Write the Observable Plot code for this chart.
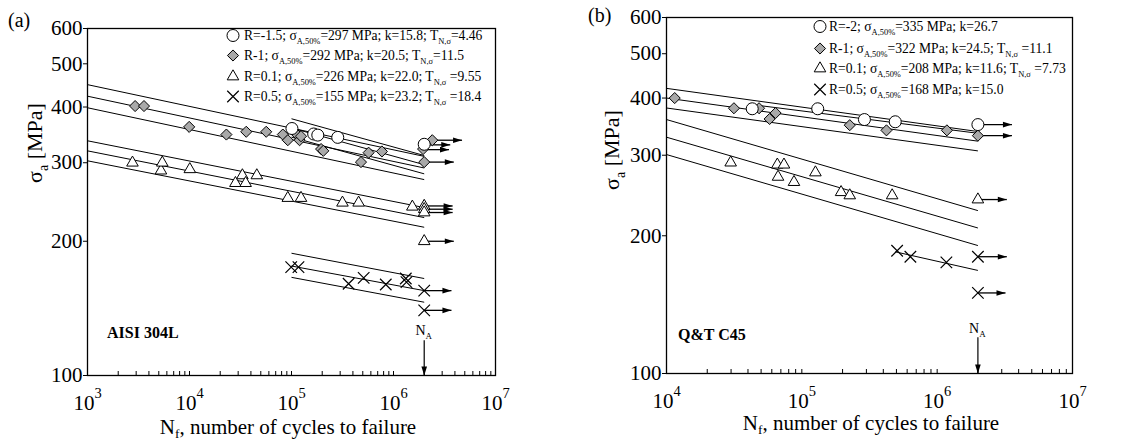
<!DOCTYPE html>
<html><head><meta charset="utf-8">
<script src="https://cdn.jsdelivr.net/npm/d3@7"></script>
<script src="https://cdn.jsdelivr.net/npm/@observablehq/plot@0.6"></script>
<style>
html,body{margin:0;padding:0;background:#fff;}
#root{position:relative;width:1144px;height:443px;overflow:hidden;background:#fff;}
#root svg{position:absolute;top:0;}
</style></head><body><div id="root"></div>
<script>
// ---------- shared ----------
const NA = 2e6;
const naArrowS = [120, 100];
const yTicks = [100, 200, 300, 400, 500, 600];

// ---------- panel (a) AISI 304L ----------
const aMajorTicks = [1e3, 1e4, 1e5, 1e6, 1e7];
const aMinorTicks = [2e3,3e3,4e3,5e3,6e3,7e3,8e3,9e3,1e4,2e4,3e4,4e4,5e4,6e4,7e4,8e4,9e4,1e5,2e5,3e5,4e5,5e5,6e5,7e5,8e5,9e5,1e6,2e6,3e6,4e6,5e6,6e6,7e6,8e6,9e6];
const aCircleN = [1.01e5, 1.65e5, 1.81e5, 2.84e5, 2.0e6];
const aCircleS = [358, 348, 346, 342, 330];
const aDiamondN = [2930, 3580, 9930, 23000, 36000, 56500, 82200, 92000, 1.09e5, 1.2e5, 1.24e5, 1.95e5, 2.05e5, 4.8e5, 5.7e5, 7.7e5, 1.95e6, 2.0e6, 2.4e6];
const aDiamondS = [402, 402, 361, 347, 352, 352, 347, 337, 350, 337, 344, 322, 319, 301, 316, 318, 322, 301, 337];
const aTriN = [2760, 5250, 5410, 10070, 28200, 33000, 35500, 45700, 92000, 1.24e5, 3.16e5, 4.55e5, 1.53e6, 2e6, 2e6, 2e6, 2e6];
const aTriS = [300, 288, 300, 290, 270, 281, 270, 281, 250, 250, 244, 244, 239, 240, 236, 232, 200];
const aCrossN = [9.93e4, 1.17e5, 3.63e5, 5.1e5, 8.4e5, 1.32e6, 1.34e6, 2e6, 2e6];
const aCrossS = [175, 175, 160.6, 165.6, 160, 165, 162, 155, 140];
// scatter-band lines (start N, start sigma, end N, end sigma)
const aLineN1 = [1e5, 1e5, 1e5, 1e3, 1e3, 1e3, 1e3, 1e3, 1e3, 1e5, 1e5, 1e5];
const aLineS1 = [376.5, 359, 342.4, 449, 423, 398.5, 336, 319, 303, 188, 176, 166];
const aLineN2 = [2e6, 2e6, 2e6, 2e6, 2e6, 2e6, 2e6, 2e6, 2e6, 2e6, 2e6, 2e6];
const aLineS2 = [311.4, 297, 283.3, 310, 292, 275, 238, 226, 215, 165, 155, 146];
// run-out arrows
const aArrowN1 = [2.4e6, 2e6, 2e6, 2e6, 2e6, 2e6, 2e6, 2e6, 2e6, 2e6];
const aArrowN2 = [4.7e6, 3.6e6, 3.5e6, 3.9e6, 3.8e6, 3.8e6, 3.8e6, 3.9e6, 3.7e6, 3.7e6];
const aArrowS = [337, 329, 321, 301, 240, 236, 232, 200, 155, 140];
const aLegend = [
  [["R=-1.5; σ"],["A,50%","sub"],["=297 MPa; k=15.8; T"],["N,σ","sub"],["=4.46"]],
  [["R-1; σ"],["A,50%","sub"],["=292 MPa; k=20.5; T"],["N,σ","sub"],["=11.5"]],
  [["R=0.1; σ"],["A,50%","sub"],["=226 MPa; k=22.0; T"],["N,σ","sub"],[" =9.55"]],
  [["R=0.5; σ"],["A,50%","sub"],["=155 MPa; k=23.2; T"],["N,σ","sub"],[" =18.4"]]
];

// ---------- panel (b) Q&T C45 ----------
const bMajorTicks = [1e4, 1e5, 1e6, 1e7];
const bMinorTicks = [2e4,3e4,4e4,5e4,6e4,7e4,8e4,9e4,1e5,2e5,3e5,4e5,5e5,6e5,7e5,8e5,9e5,1e6,2e6,3e6,4e6,5e6,6e6,7e6,8e6,9e6];
const bCircleN = [4.3e4, 1.31e5, 2.9e5, 4.9e5, 2e6];
const bCircleS = [379, 379, 359, 355, 350];
const bDiamondN = [11500, 31500, 48300, 57800, 64000, 2.26e5, 4.22e5, 1.18e6, 2e6];
const bDiamondS = [400, 380, 380, 360, 371, 349, 340, 340, 331];
const bTriN = [29800, 65900, 73800, 66700, 87500, 1.26e5, 1.95e5, 2.26e5, 4.65e5, 2e6];
const bTriS = [289, 286, 286, 269, 262, 275, 249, 245, 245, 240];
const bCrossN = [5.06e5, 6.34e5, 1.17e6, 2e6, 2e6];
const bCrossS = [185.5, 180, 175, 180, 150];
const bLineN1 = [1e4, 1e4, 1e4, 4.3e4, 1e4, 1e4, 1e4, 4.9e5];
const bLineS1 = [420, 400, 380.5, 387, 359, 328.5, 301, 184.5];
const bLineN2 = [2e6, 2e6, 2e6, 2e6, 2e6, 2e6, 2e6, 2e6];
const bLineS2 = [338, 322, 306.6, 335, 227, 208, 190.4, 168];
const bArrowN1 = [2e6, 2e6, 2e6, 2e6, 2e6];
const bArrowN2 = [3.57e6, 3.57e6, 3.27e6, 3.27e6, 3.2e6];
const bArrowS = [350, 331, 240, 180, 150];
const bLegend = [
  [["R=-2; σ"],["A,50%","sub"],["=335 MPa; k=26.7"]],
  [["R-1; σ"],["A,50%","sub"],["=322 MPa; k=24.5; T"],["N,σ","sub"],[" =11.1"]],
  [["R=0.1; σ"],["A,50%","sub"],["=208 MPa; k=11.6; T"],["N,σ","sub"],[" =7.73"]],
  [["R=0.5; σ"],["A,50%","sub"],["=168 MPa; k=15.0"]]
];

// ---------- drawing ----------
const FONT = '"Liberation Serif", "Times New Roman", serif';
const headRight = {draw(ctx) { ctx.moveTo(0, 0); ctx.lineTo(-9, -2.8); ctx.lineTo(-9, 2.8); ctx.closePath(); }};
const headDown = {draw(ctx) { ctx.moveTo(0, 0); ctx.lineTo(-2.8, -9); ctx.lineTo(2.8, -9); ctx.closePath(); }};
const SYM = {
  circle: {symbol: "circle", r: 6, fill: "white", stroke: "black", strokeWidth: 1},
  diamond: {symbol: "diamond2", r: 5, fill: "#a9a9a9", stroke: "black", strokeWidth: 1},
  triangle: {symbol: "triangle", r: 4.3, fill: "white", stroke: "black", strokeWidth: 1},
  times: {symbol: "times", r: 5.3, fill: "none", stroke: "black", strokeWidth: 1.2}
};

function rich(g, parts, o) {
  const t = g.append("text").attr("x", o.x).attr("y", o.y)
    .attr("font-size", o.size).attr("font-family", FONT)
    .attr("text-anchor", o.anchor || "start").attr("fill", "black")
    .style("white-space", "pre");
  if (o.weight) t.attr("font-weight", o.weight);
  if (o.transform) t.attr("transform", o.transform);
  let shift = 0;
  const drop = o.drop || 0.28;
  for (const [s, m] of parts) {
    const ts = t.append("tspan").text(s);
    const target = m === "sub" ? drop : 0;
    const dy = (target - shift) * o.size;
    if (dy) ts.attr("dy", dy.toFixed(2));
    shift = target;
    if (m) ts.attr("font-size", (o.size * (o.subScale || 0.64)).toFixed(2));
  }
  return t;
}

function makePanel(c) {
  const pts = (N, S) => N.map((n, i) => ({n, s: S[i]}));
  const lines = c.lineN1.map((n, i) => ({n1: n, s1: c.lineS1[i], n2: c.lineN2[i], s2: c.lineS2[i]}));
  const arrows = c.arrN1.map((n, i) => ({n1: n, n2: c.arrN2[i], s: c.arrS[i]}));
  const na = [{n: NA, s1: naArrowS[0], s2: naArrowS[1]}];
  const plot = Plot.plot({
    width: 572, height: 443,
    marginLeft: c.ml, marginRight: c.mr, marginTop: c.mt, marginBottom: c.mb,
    style: {fontFamily: FONT, fontSize: "21px", background: "transparent", color: "black", overflow: "visible"},
    x: {type: "log", domain: c.xDomain},
    y: {type: "log", domain: [100, 600]},
    marks: [
      Plot.axisY({ticks: yTicks, tickFormat: d => String(d), tickSize: 4, tickPadding: 1, fontSize: 21, label: null}),
      Plot.axisX({ticks: c.major, tickFormat: d => "10^" + Math.round(Math.log10(d)), tickSize: 0, tickPadding: c.tickPad, fontSize: 21, label: null}),
      Plot.axisX({ticks: c.minor, tickSize: -4, fill: "none", label: null}),
      Plot.link(lines, {x1: "n1", y1: "s1", x2: "n2", y2: "s2", stroke: "black", strokeWidth: 1}),
      Plot.link(arrows, {x1: "n1", x2: "n2", y1: "s", y2: "s", stroke: "black", strokeWidth: 1.3}),
      Plot.dot(arrows, {x: "n2", y: "s", symbol: headRight, fill: "black", r: 4}),
      Plot.link(na, {x1: "n", x2: "n", y1: "s1", y2: "s2", stroke: "black", strokeWidth: 1.2}),
      Plot.dot(na, {x: "n", y: "s2", symbol: headDown, fill: "black", r: 4}),
      Plot.dot(pts(c.triN, c.triS), {x: "n", y: "s", ...SYM.triangle}),
      Plot.dot(pts(c.diaN, c.diaS), {x: "n", y: "s", ...SYM.diamond}),
      Plot.dot(pts(c.cirN, c.cirS), {x: "n", y: "s", ...SYM.circle}),
      Plot.dot(pts(c.croN, c.croS), {x: "n", y: "s", ...SYM.times}),
      Plot.frame({stroke: "black", strokeWidth: 1.3})
    ]
  });
  plot.style.left = c.left + "px";
  const svg = d3.select(plot);
  // superscript exponents on x tick labels
  svg.selectAll('g[aria-label="x-axis tick label"] text').each(function() {
    const m = this.textContent.match(/^10\^(\d+)$/);
    if (!m) return;
    const t = d3.select(this);
    t.text("10");
    t.append("tspan").attr("dy", -12).attr("font-size", 14.5).text(m[1]);
  });
  const g = svg.append("g").attr("text-anchor", "start");
  const sx = plot.scale("x");
  // panel tag
  g.append("text").attr("x", c.tagX).attr("y", c.tagY).attr("font-size", 20).attr("font-family", FONT)
    .attr("text-anchor", "start").text(c.tag);
  // axis titles
  rich(g, [["σ"], ["a", "sub"], [" [MPa]"]], {x: 0, y: 0, size: 22, anchor: "middle", transform: `translate(${c.ylabX},${c.ylabY}) rotate(-90)`});
  rich(g, [["N"], ["f", "sub"], [", number of cycles to failure"]], {x: c.xlabX, y: c.xlabY, size: 21, anchor: "middle", drop: 0.2});
  // material
  g.append("text").attr("x", c.matX).attr("y", c.matY).attr("font-size", 16).attr("font-weight", "bold")
    .attr("font-family", FONT).attr("text-anchor", "start").text(c.material);
  // N_A label
  rich(g, [["N"], ["A", "sub"]], {x: sx.apply(NA), y: c.naY, size: 14, anchor: "middle"});
  // legend
  const kinds = ["circle", "diamond", "triangle", "times"];
  c.legend.forEach((parts, i) => {
    const y = c.legY[i];
    const k = SYM[kinds[i]];
    const symType = {circle: d3.symbolCircle, diamond2: d3.symbolDiamond2, triangle: d3.symbolTriangle, times: d3.symbolTimes}[k.symbol];
    g.append("path").attr("d", d3.symbol(symType, Math.PI * k.r * k.r)())
      .attr("transform", `translate(${c.legSymX},${y - 4.5})`)
      .attr("fill", k.fill).attr("stroke", k.stroke).attr("stroke-width", k.strokeWidth);
    rich(g, parts, {x: c.legTextX, y, size: 13.6, subScale: 0.62});
  });
  document.getElementById("root").appendChild(plot);
}

makePanel({
  left: 0, ml: 87, mr: 77, mt: 28, mb: 68, xDomain: [1e3, 1e7], tickPad: 20,
  major: aMajorTicks, minor: aMinorTicks,
  cirN: aCircleN, cirS: aCircleS, diaN: aDiamondN, diaS: aDiamondS,
  triN: aTriN, triS: aTriS, croN: aCrossN, croS: aCrossS,
  lineN1: aLineN1, lineS1: aLineS1, lineN2: aLineN2, lineS2: aLineS2,
  arrN1: aArrowN1, arrN2: aArrowN2, arrS: aArrowS,
  legend: aLegend, legY: [40, 60, 81, 101], legSymX: 233, legTextX: 244,
  tag: "(a)", tagX: 8, tagY: 27, ylabX: 42, ylabY: 143, xlabX: 288, xlabY: 434,
  material: "AISI 304L", matX: 107, matY: 338, naY: 335
});
makePanel({
  left: 572, ml: 94, mr: 72, mt: 17, mb: 70, xDomain: [1e4, 1e7], tickPad: 20,
  major: bMajorTicks, minor: bMinorTicks,
  cirN: bCircleN, cirS: bCircleS, diaN: bDiamondN, diaS: bDiamondS,
  triN: bTriN, triS: bTriS, croN: bCrossN, croS: bCrossS,
  lineN1: bLineN1, lineS1: bLineS1, lineN2: bLineN2, lineS2: bLineS2,
  arrN1: bArrowN1, arrN2: bArrowN2, arrS: bArrowS,
  legend: bLegend, legY: [31, 53, 73, 94], legSymX: 248, legTextX: 257,
  tag: "(b)", tagX: 16, tagY: 22, ylabX: 47, ylabY: 150, xlabX: 299, xlabY: 430,
  material: "Q&T C45", matX: 106, matY: 340, naY: 333
});
</script></body></html>
